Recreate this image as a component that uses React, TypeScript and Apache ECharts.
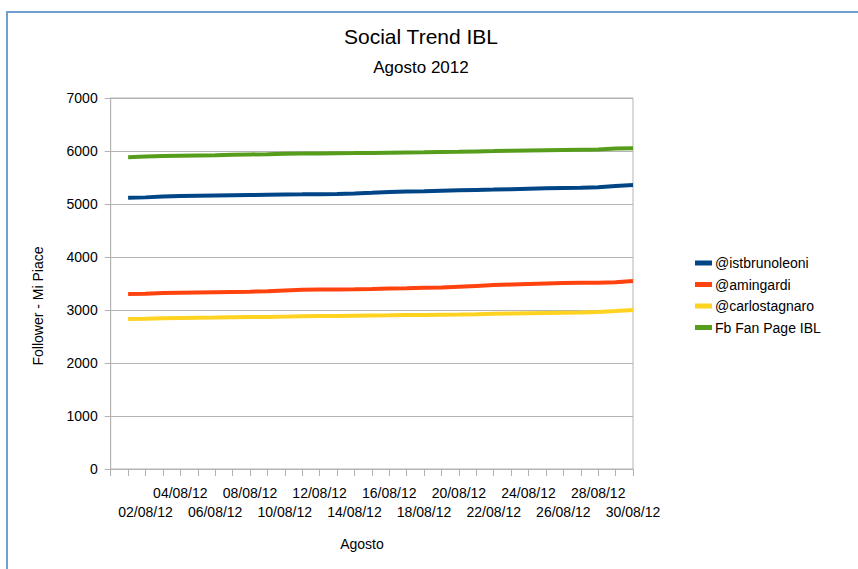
import React, { useEffect, useRef } from "react";
import * as echarts from "echarts";

const dates = [
  "01/08/12", "02/08/12", "03/08/12", "04/08/12", "05/08/12", "06/08/12",
  "07/08/12", "08/08/12", "09/08/12", "10/08/12", "11/08/12", "12/08/12",
  "13/08/12", "14/08/12", "15/08/12", "16/08/12", "17/08/12", "18/08/12",
  "19/08/12", "20/08/12", "21/08/12", "22/08/12", "23/08/12", "24/08/12",
  "25/08/12", "26/08/12", "27/08/12", "28/08/12", "29/08/12", "30/08/12",
];

const istbrunoleoni = [
  5120, 5125, 5140, 5150, 5155, 5160, 5165, 5170, 5175, 5180,
  5182, 5185, 5190, 5200, 5212, 5225, 5235, 5242, 5250, 5258,
  5265, 5272, 5280, 5290, 5298, 5302, 5305, 5315, 5340, 5360,
];
const amingardi = [
  3300, 3305, 3320, 3325, 3330, 3335, 3340, 3345, 3355, 3370,
  3380, 3385, 3388, 3392, 3398, 3405, 3410, 3418, 3425, 3440,
  3455, 3470, 3480, 3490, 3500, 3508, 3512, 3515, 3525, 3545,
];
const carlostagnaro = [
  2830, 2835, 2845, 2850, 2855, 2858, 2862, 2866, 2870, 2875,
  2880, 2885, 2888, 2892, 2896, 2900, 2905, 2908, 2912, 2915,
  2920, 2928, 2935, 2940, 2945, 2950, 2955, 2962, 2980, 3000,
];
const fbFanPage = [
  5880, 5895, 5905, 5910, 5915, 5920, 5928, 5935, 5940, 5948,
  5952, 5955, 5958, 5960, 5963, 5968, 5972, 5975, 5980, 5985,
  5992, 5998, 6005, 6010, 6015, 6020, 6025, 6030, 6045, 6050,
];

const seriesNames = ["@istbrunoleoni", "@amingardi", "@carlostagnaro", "Fb Fan Page IBL"];
const seriesValues = [istbrunoleoni, amingardi, carlostagnaro, fbFanPage];
const seriesColors = ["#004586", "#ff420e", "#ffd320", "#579d1c"];

const FONT = "Liberation Sans";

export default function App() {
  const ref = useRef<HTMLDivElement>(null);

  useEffect(() => {
    if (!ref.current) return;
    const chart = echarts.init(ref.current, undefined, { renderer: "svg" });
    const option = {
      animation: false,
      backgroundColor: "#ffffff",
      textStyle: { fontFamily: FONT },
      title: [
        {
          text: "Social Trend IBL",
          left: 421,
          top: 26,
          padding: 0,
          textAlign: "center",
          textStyle: { fontSize: 21, fontWeight: "normal", color: "#000", fontFamily: FONT },
        },
        {
          text: "Agosto 2012",
          left: 421,
          top: 59,
          padding: 0,
          textAlign: "center",
          textStyle: { fontSize: 17, fontWeight: "normal", color: "#000", fontFamily: FONT },
        },
      ],
      legend: {
        orient: "vertical",
        left: 695,
        top: 256,
        itemWidth: 17,
        itemHeight: 5,
        itemGap: 7.5,
        icon: "rect",
        padding: 0,
        data: seriesNames,
        textStyle: { fontSize: 14, color: "#000", fontFamily: FONT, padding: [0, 0, 0, -2] },
      },
      grid: {
        left: 110.7,
        right: 225,
        top: 98,
        bottom: 100,
        show: true,
        borderColor: "#b3b3b3",
        borderWidth: 1,
        backgroundColor: "transparent",
      },
      xAxis: {
        type: "value",
        min: 0,
        max: 30,
        interval: 1,
        axisLine: { show: true, lineStyle: { color: "#b3b3b3", width: 1 } },
        axisTick: { show: true, length: 7, lineStyle: { color: "#b3b3b3" } },
        splitLine: { show: false },
        axisLabel: {
          margin: 14,
          fontSize: 14,
          lineHeight: 19,
          color: "#000",
          fontFamily: FONT,
          formatter: (v: number) => {
            const d = Math.round(v);
            if (d < 1 || d % 2 !== 0) return "";
            const label = dates[d - 1];
            return d % 4 === 0 ? label : "\n" + label;
          },
        },
      },
      yAxis: {
        type: "value",
        min: 0,
        max: 7000,
        interval: 1000,
        axisLine: { show: true, lineStyle: { color: "#b3b3b3", width: 1 } },
        axisTick: { show: true, length: 6, lineStyle: { color: "#b3b3b3" } },
        splitLine: { show: true, lineStyle: { color: "#b3b3b3", width: 1 } },
        axisLabel: {
          margin: 13,
          fontSize: 14,
          color: "#000",
          fontFamily: FONT,
          formatter: (v: number) => String(v),
        },
      },
      graphic: [
        {
          type: "line",
          shape: { x1: 6, y1: 12, x2: 858, y2: 12 },
          style: { stroke: "#729fcf", lineWidth: 2 },
          silent: true,
        },
        {
          type: "line",
          shape: { x1: 7, y1: 12, x2: 7, y2: 569 },
          style: { stroke: "#729fcf", lineWidth: 2 },
          silent: true,
        },
        {
          type: "text",
          x: 38,
          y: 306,
          rotation: Math.PI / 2,
          style: {
            text: "Follower - Mi Piace",
            fontSize: 14,
            fill: "#000",
            fontFamily: FONT,
            align: "center",
            verticalAlign: "middle",
          },
        },
        {
          type: "text",
          x: 362,
          y: 544,
          style: {
            text: "Agosto",
            fontSize: 14,
            fill: "#000",
            fontFamily: FONT,
            align: "center",
            verticalAlign: "middle",
          },
        },
      ],
      series: seriesNames.map((name, s) => ({
        name,
        type: "line",
        showSymbol: false,
        symbol: "none",
        color: seriesColors[s],
        lineStyle: { color: seriesColors[s], width: 4 },
        data: seriesValues[s].map((v, i) => [i + 1, v]),
      })),
    };
    chart.setOption(option as any);
    return () => chart.dispose();
  }, []);

  return (
    <div
      ref={ref}
      style={{ position: "fixed", left: 0, top: 0, width: 858, height: 569, background: "#fff" }}
    />
  );
}
